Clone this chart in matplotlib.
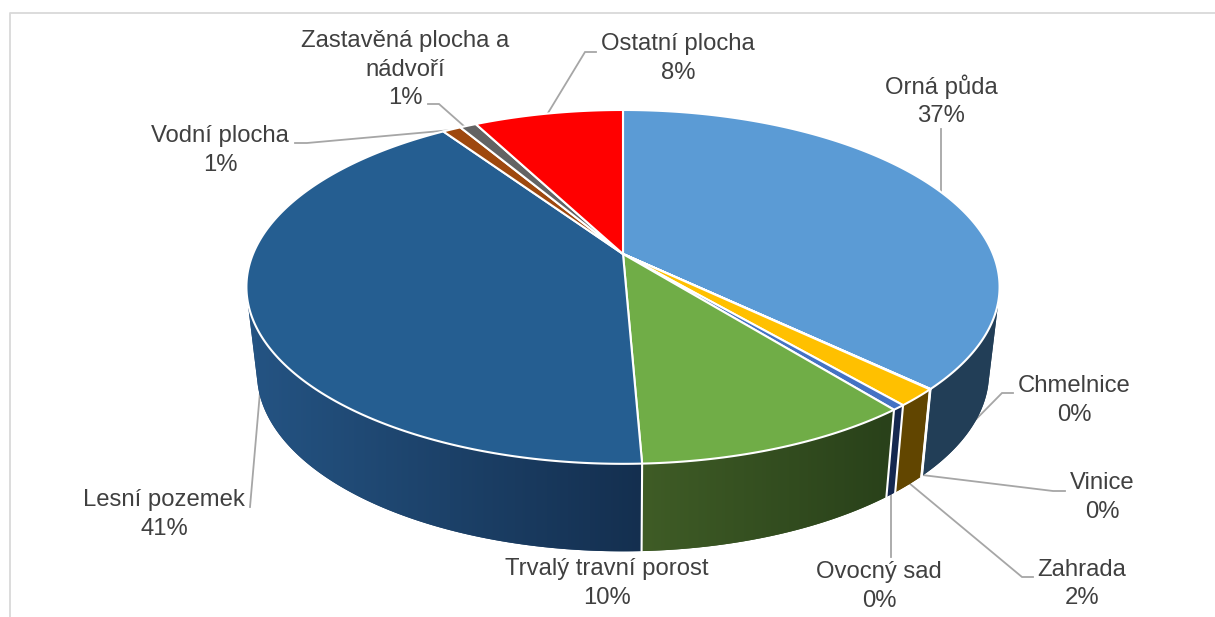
import numpy as np
import matplotlib
matplotlib.use("Agg")
import matplotlib.pyplot as plt
from matplotlib.patches import Polygon
from matplotlib.colors import to_rgb

categories = ["Orná půda", "Chmelnice", "Vinice", "Zahrada", "Ovocný sad",
              "Trvalý travní porost", "Lesní pozemek", "Vodní plocha",
              "Zastavěná plocha a\nnádvoří", "Ostatní plocha"]
values = [37.1, 0.02, 0.02, 1.6, 0.49, 10.1, 41.2, 0.95, 0.85, 7.67]
top_colors = ["#5B9BD5", "#ED7D31", "#A5A5A5", "#FFC000", "#4472C4",
              "#70AD47", "#255E91", "#9E480E", "#636363", "#FF0000"]
side_left = ["#233F58", "#8A4A1D", "#636363", "#634700", "#15284F",
             "#3F5C26", "#245382", "#5E2B08", "#3B3B3B", "#990000"]
side_right = ["#223E57", "#8A4A1D", "#636363", "#614500", "#15284F",
              "#29411A", "#142F4F", "#5E2B08", "#3B3B3B", "#990000"]
side_x_range = [(930, 1000), (925, 930), (925, 930), (895, 925), (885, 895),
                (643, 890), (258, 643), (440, 460), (460, 476), (476, 623)]
label_pos = [(941, 101), (1074, 400.5), (1102, 497.5), (1082, 584), (879, 586.5),
             (607, 583.5), (164, 514.5), (220, 150.5), (405, 69.5), (678, 58.5)]
leaders = [[(941, 129), (941, 192)],
           [(1013, 393), (1002, 393), (923, 473)],
           [(1065, 491), (1053, 491), (922, 475)],
           [(1033, 577), (1022, 577), (909, 483)],
           [(891, 557), (891, 493)],
           [(250, 507), (260, 392)],
           [(295, 143), (307, 143), (452, 130)],
           [(428, 104), (439, 104), (465, 127)],
           [(596, 52), (585, 52), (548, 113)]]
leader_color = "#A6A6A6"
text_color = "#404040"

CX, CY, A, B, K = 623.0, 254.0, 370.0, 170.8, 0.186
BOT_S, BOT_CY, BOT_B = 0.972, 340.0, 172.0


def project(theta, cy, a, b):
    x, y = np.sin(theta), np.cos(theta)
    w = 1 + K * y
    return CX + a * x / w, cy - b * y / w


def top_pt(t):
    return project(t, CY, A, B)


def bot_pt(t):
    return project(t, BOT_CY, A * BOT_S, BOT_B)


def convex_hull(points):
    pts = sorted(set(map(tuple, points)))

    def half(seq):
        out = []
        for p in seq:
            while len(out) > 1 and ((out[-1][0] - out[-2][0]) * (p[1] - out[-2][1])
                                    - (out[-1][1] - out[-2][1]) * (p[0] - out[-2][0])) <= 0:
                out.pop()
            out.append(p)
        return out[:-1]

    return np.array(half(pts) + half(pts[::-1]))


fig = plt.figure(figsize=(12.15, 6.17), dpi=100, facecolor="white")
ax = fig.add_axes([0, 0, 1, 1])
ax.set_xlim(0, 1215)
ax.set_ylim(617, 0)
ax.axis("off")

# chart frame: left and top only are inside the crop
ax.plot([10, 10, 1215], [617, 12.5, 12.5], color="#D9D9D9", lw=1.3, zorder=1)

total = sum(values)
edges = np.concatenate([[0], np.cumsum(values)]) / total * 2 * np.pi

# leaders
for pts in leaders:
    xs, ys = zip(*pts)
    ax.plot(xs, ys, color=leader_color, lw=1.3, zorder=2, solid_joinstyle="miter")

# side wall: horizontal gradient per slice, clipped to the hull of the slice's wall
for i in range(len(values)):
    n = max(int((edges[i + 1] - edges[i]) / 0.01), 2)
    ts = np.linspace(edges[i], edges[i + 1], n + 1)
    tx, ty = top_pt(ts)
    bx, by = bot_pt(ts)
    outline = convex_hull(np.c_[np.r_[tx, bx], np.r_[ty, by]])
    x0, x1 = side_x_range[i]
    cl, cr = np.array(to_rgb(side_left[i])), np.array(to_rgb(side_right[i]))
    f = np.clip((np.arange(1215) + 0.5 - x0) / (x1 - x0), 0, 1)[None, :, None]
    grad = cl[None, None, :] + (cr - cl)[None, None, :] * f
    z = 3 + i * 0.01
    patch = Polygon(outline, closed=True, facecolor=tuple((cl + cr) / 2), edgecolor="none", zorder=z)
    ax.add_patch(patch)
    im = ax.imshow(grad, extent=(0, 1215, 617, 0), aspect="auto", zorder=z + 0.001, interpolation="bilinear")
    im.set_clip_path(patch)

# white seams on the visible side wall
for t in edges:
    if np.pi / 2 < (t % (2 * np.pi)) < 1.5 * np.pi:
        (x0, y0), (x1, y1) = top_pt(t), bot_pt(t)
        ax.plot([x0, x1], [y0, y1], color="white", lw=1.5, zorder=4)

# top face
for i in range(len(values)):
    n = max(int((edges[i + 1] - edges[i]) / 0.01), 2)
    ts = np.linspace(edges[i], edges[i + 1], n + 1)
    x, y = top_pt(ts)
    ax.fill(np.r_[CX, x], np.r_[CY, y], facecolor=top_colors[i], edgecolor="white",
            lw=1.5, joinstyle="round", zorder=5)

# labels
for name, v, (lx, ly) in zip(categories, values, label_pos):
    ax.text(lx, ly, f"{name}\n{round(v)}%", ha="center", va="center", multialignment="center",
            color=text_color, fontsize=17.2, family="Liberation Sans", linespacing=1.36, zorder=6)

ax.set_xlim(0, 1215)
ax.set_ylim(617, 0)
fig.savefig("out.png", dpi=100, facecolor="white")
